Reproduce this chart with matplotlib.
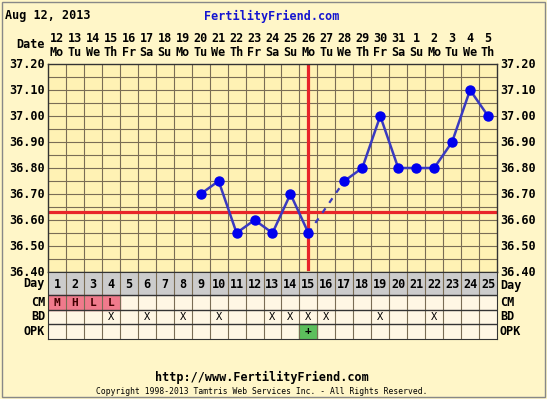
import matplotlib
matplotlib.use("Agg")
import matplotlib.pyplot as plt
import numpy as np

W, H = 547, 399

# chart data
cycle_days = list(range(1, 26))
dates = ["12", "13", "14", "15", "16", "17", "18", "19", "20", "21", "22", "23", "24",
         "25", "26", "27", "28", "29", "30", "31", "1", "2", "3", "4", "5"]
weekdays = ["Mo", "Tu", "We", "Th", "Fr", "Sa", "Su", "Mo", "Tu", "We", "Th", "Fr", "Sa",
            "Su", "Mo", "Tu", "We", "Th", "Fr", "Sa", "Su", "Mo", "Tu", "We", "Th"]
temp_days = [9, 10, 11, 12, 13, 14, 15, 17, 18, 19, 20, 21, 22, 23, 24, 25]
temps = [36.70, 36.75, 36.55, 36.60, 36.55, 36.70, 36.55, 36.75, 36.80, 37.00,
         36.80, 36.80, 36.80, 36.90, 37.10, 37.00]
coverline = 36.63
ovulation_day = 15
cm = {1: "M", 2: "H", 3: "L", 4: "L"}
bd_days = [4, 6, 8, 10, 13, 14, 15, 16, 19, 22]
opk_pos = [15]
yticks = [36.40, 36.50, 36.60, 36.70, 36.80, 36.90, 37.00, 37.10, 37.20]

BG = "#fff6c8"
PLOT_BG = "#fff2b4"
CELL_BG = "#fff7e4"
GRID = "#7a6d55"
BLUE_LINE = "#3a3ac0"
BLUE_DOT = "#0000ee"
RED = "#e8242a"
FONT = "DejaVu Sans Mono"


def fx(x):
    return x / W


def fy(y):
    return 1 - y / H


def box(l, t, r, b):
    return [fx(l), fy(b), fx(r) - fx(l), fy(t) - fy(b)]


fig = plt.figure(figsize=(W / 100, H / 100), dpi=100)
fig.patch.set_facecolor(BG)
fig.add_artist(plt.Rectangle((fx(2), fy(397)), fx(545) - fx(2), fy(2) - fy(397),
                             transform=fig.transFigure, fill=False, edgecolor="#888888", lw=1))

L, R, T, B = 48, 497, 64, 272

# temperature chart
ax = fig.add_axes(box(L, T, R, B))
ax.set_facecolor(PLOT_BG)
ax.set_xlim(0.5, 25.5)
ax.set_ylim(36.40, 37.20)
for x in np.arange(1.5, 25.5, 1):
    ax.axvline(x, color=GRID, lw=0.8, zorder=1)
for y in np.arange(36.45, 37.2, 0.05):
    ax.axhline(y, color=GRID, lw=0.8, zorder=1)
for s in ax.spines.values():
    s.set_color("#333333")
    s.set_linewidth(1)
ax.set_xticks([])
ax.set_yticks([])

ax.axhline(coverline, color=RED, lw=2.3, zorder=2)
ax.plot([ovulation_day, ovulation_day], [36.41, 37.20], color=RED, lw=2.3, zorder=2)

# solid segments, dashed across missing day
seg = []
for i in range(len(temp_days)):
    if i > 0 and temp_days[i] - temp_days[i - 1] > 1:
        ax.plot(temp_days[i - 1:i + 1], temps[i - 1:i + 1], color=BLUE_LINE, lw=1.6,
                ls=(0, (2.5, 3)), zorder=3)
        seg = []
    seg.append(i)
    if i == len(temp_days) - 1 or temp_days[i + 1] - temp_days[i] > 1:
        ax.plot([temp_days[j] for j in seg], [temps[j] for j in seg], color=BLUE_LINE,
                lw=1.8, zorder=3)
ax.plot(temp_days, temps, "o", color=BLUE_DOT, ms=6.5, zorder=4)

for v in yticks:
    y = T + (37.20 - v) / 0.80 * (B - T)
    fig.text(fx(45), fy(y), f"{v:.2f}", ha="right", va="center", family=FONT,
             weight="bold", size=8.5)
    fig.text(fx(500), fy(y), f"{v:.2f}", ha="left", va="center", family=FONT,
             weight="bold", size=8.5)

# header
fig.text(fx(5), fy(16), "Aug 12, 2013", ha="left", va="center", family=FONT,
         weight="bold", size=8.5)
fig.text(fx(272), fy(16), "FertilityFriend.com", ha="center", va="center", family=FONT,
         weight="bold", size=8.5, color="#1515d0")
fig.text(fx(45), fy(45), "Date", ha="right", va="center", family=FONT, weight="bold", size=8.5)
for i, (d, w) in enumerate(zip(dates, weekdays)):
    cx = L + (i + 0.5) * (R - L) / 25
    fig.text(fx(cx), fy(39), d, ha="center", va="center", family=FONT, weight="bold", size=8.5)
    fig.text(fx(cx), fy(52), w, ha="center", va="center", family=FONT, weight="bold", size=8.5)

# table below
rows = [("Day", 272, 295), ("CM", 295, 310), ("BD", 310, 324), ("OPK", 324, 339)]
tb = fig.add_axes(box(L, 272, R, 339))
tb.set_xlim(0.5, 25.5)
tb.set_ylim(339, 272)
tb.set_xticks([])
tb.set_yticks([])
for s in tb.spines.values():
    s.set_color("#333333")
tb.set_facecolor(CELL_BG)
tb.axhspan(272, 295, color="#cccccc", zorder=0)
for d, lab in cm.items():
    tb.add_patch(plt.Rectangle((d - 0.5, 295), 1, 15, color="#f07a8c", zorder=0.5))
for d in opk_pos:
    tb.add_patch(plt.Rectangle((d - 0.5, 324), 1, 15, color="#5cbf5c", zorder=0.5))
for x in np.arange(1.5, 25.5, 1):
    tb.plot([x, x], [272, 339], color=GRID, lw=0.8, zorder=1)
for name, t, b in rows[1:]:
    tb.plot([0.5, 25.5], [t, t], color="#333333", lw=1, zorder=1)
for d in cycle_days:
    tb.text(d, 284, str(d), ha="center", va="center", family=FONT, weight="bold", size=8.5)
for d, lab in cm.items():
    tb.text(d, 302.5, lab, ha="center", va="center", family=FONT, weight="bold", size=8,
            color="#400000")
for d in bd_days:
    tb.text(d, 317, "X", ha="center", va="center", family=FONT, size=7.5)
for d in opk_pos:
    tb.text(d, 331.5, "+", ha="center", va="center", family=FONT, weight="bold", size=8)
for name, t, b in rows:
    fig.text(fx(45), fy((t + b) / 2), name, ha="right", va="center", family=FONT,
             weight="bold", size=8.5)
    fig.text(fx(500), fy((t + b) / 2 + (2 if name == "Day" else 0)), name, ha="left",
             va="center", family=FONT, weight="bold", size=8.5)

# footer
fig.text(fx(262), fy(377), "http://www.FertilityFriend.com", ha="center", va="center",
         family=FONT, weight="bold", size=8.5)
fig.text(fx(262), fy(391), "Copyright 1998-2013 Tamtris Web Services Inc. - All Rights Reserved.",
         ha="center", va="center", family=FONT, size=5.8)

fig.savefig("out.png", dpi=100, facecolor=BG)
